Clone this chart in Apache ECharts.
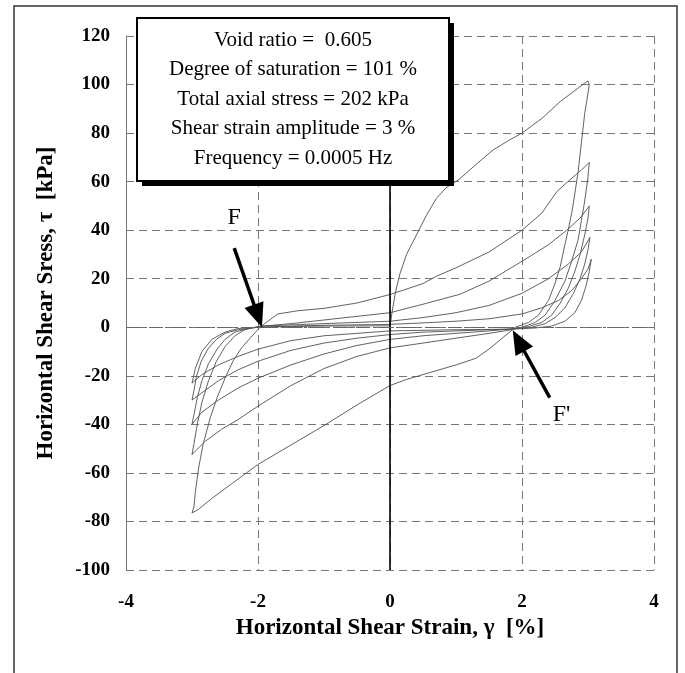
<!DOCTYPE html>
<html><head><meta charset="utf-8">
<script src="https://cdn.jsdelivr.net/npm/echarts@6/dist/echarts.min.js"></script>
<style>html,body{margin:0;padding:0;background:#fff}#c{width:685px;height:673px}</style>
</head><body><div id="c"></div>
<script>
// ---- data (strain %, stress kPa) ----
const xTickLabels = [-4, -2, 0, 2, 4];
const yTickLabels = [-100, -80, -60, -40, -20, 0, 20, 40, 60, 80, 100, 120];

const L0 = [[0,0],[0.03,6],[0.08,14],[0.15,22],[0.25,30],[0.4,38],[0.55,46],[0.7,53],[0.85,57.5],[1.05,61],[1.3,67],[1.56,73],[1.8,77],[2.0,80],[2.3,86],[2.58,93],[2.8,97.5],[2.92,100],[3.0,101.5]];
const U1 = [[3.0,101.5],[3.02,100],[2.98,93],[2.95,88],[2.9,76],[2.85,64],[2.8,55],[2.76,48],[2.7,40],[2.65,34],[2.58,25],[2.5,18],[2.4,11],[2.25,5],[2.1,2],[1.9,0],[1.7,-4.5],[1.5,-9],[1.3,-12.8],[1.0,-15.5],[0.56,-19],[0.25,-21.5],[0,-24],[-0.5,-32],[-1,-40.5],[-1.5,-48.5],[-2,-56.5],[-2.4,-64.5],[-2.7,-70.5],[-2.9,-75],[-3.0,-76.5]];
const R1 = [[-3.0,-76.5],[-2.97,-74],[-2.95,-68],[-2.9,-58],[-2.83,-48],[-2.72,-37],[-2.62,-29],[-2.5,-21],[-2.38,-14],[-2.25,-8.5],[-2.12,-4.5],[-1.97,0],[-1.85,2.5],[-1.7,5.5],[-1.4,6.8],[-1,7.8],[-0.5,10],[0,13.5],[0.5,18],[0.7,21],[1,24.5],[1.5,31],[2,40],[2.3,47],[2.53,56],[2.8,62.5],[2.95,66],[3.02,68]];
const U2 = [[3.02,68],[3.0,62],[2.95,52],[2.9,44],[2.85,36],[2.75,27],[2.65,19],[2.5,11],[2.35,5],[2.2,2],[2.0,0],[1.8,-1.2],[1.5,-2.5],[1,-4.5],[0.5,-6.5],[0,-8.5],[-0.5,-12],[-1,-17],[-1.5,-24],[-2,-32.5],[-2.3,-38],[-2.55,-42],[-2.8,-47],[-2.95,-51],[-3.0,-52.5]];
const R2 = [[-3.0,-52.5],[-2.97,-48],[-2.92,-40],[-2.85,-31],[-2.75,-22],[-2.63,-14],[-2.5,-8],[-2.35,-3.5],[-2.2,-1],[-2.0,0.3],[-1.5,1.5],[-1,3],[-0.5,4.5],[0,6],[0.5,9.5],[1.06,13.6],[1.5,19],[2.08,28.5],[2.4,34],[2.68,40],[2.88,45],[3.02,50]];
const U3 = [[3.02,50],[3.0,45],[2.95,38],[2.88,30],[2.8,23],[2.7,16],[2.58,10],[2.45,5],[2.3,2],[2.1,0.3],[1.9,-0.5],[1.5,-1.5],[1,-2.5],[0.5,-3.5],[0,-5],[-0.5,-7.5],[-1,-11],[-1.5,-15.5],[-2,-21],[-2.3,-25],[-2.6,-30],[-2.85,-35],[-2.97,-39],[-3.0,-40]];
const R3 = [[-3.0,-40],[-2.97,-36],[-2.92,-29],[-2.85,-22],[-2.75,-15],[-2.62,-9],[-2.5,-5],[-2.35,-2],[-2.15,-0.5],[-1.9,0.5],[-1.5,1],[-1,1.5],[-0.5,2],[0,2.5],[0.5,4],[1,6],[1.5,9],[2,14],[2.4,20],[2.7,26],[2.9,31],[3.03,37]];
const U4 = [[3.03,37],[3.0,32],[2.95,26],[2.88,20],[2.78,14],[2.65,8],[2.5,4],[2.35,1.5],[2.15,0],[1.8,-0.8],[1.5,-1],[1,-1.5],[0.5,-2],[0,-3],[-0.5,-4.5],[-1,-6.5],[-1.5,-9.5],[-2,-14],[-2.3,-17.5],[-2.6,-22],[-2.85,-27],[-3.0,-30]];
const R4 = [[-3.0,-30],[-2.97,-26],[-2.93,-20],[-2.86,-14],[-2.76,-9],[-2.63,-5],[-2.5,-2.5],[-2.3,-1],[-2.0,0],[-1.5,0.5],[-1,0.8],[0,1.2],[0.5,1.8],[1,2.5],[1.5,3.5],[2,5.5],[2.3,8],[2.55,11],[2.75,15],[2.9,20],[3.0,24],[3.05,28]];
const U5 = [[3.05,28],[3.02,23],[2.97,17],[2.9,11],[2.8,6],[2.65,2.5],[2.45,0.5],[2.2,-0.3],[1.8,-0.8],[1,-1],[0,-1.5],[-0.5,-2.5],[-1,-3.5],[-1.5,-5.5],[-2,-9],[-2.3,-12],[-2.6,-15.5],[-2.85,-19.5],[-3.0,-23]];
const R5 = [[-3.0,-23],[-2.95,-17],[-2.85,-10],[-2.7,-5],[-2.5,-2],[-2.3,-0.5],[-2.0,0],[-1.5,0.3],[-1,0.5],[0,0.6]];

const branches = [L0, U1, R1, U2, R2, U3, R3, U4, R4, U5, R5];

const infoLines = ['Void ratio =  0.605', 'Degree of saturation = 101 %', 'Total axial stress = 202 kPa', 'Shear strain amplitude = 3 %', 'Frequency = 0.0005 Hz'];
const arrowF  = { text: 'F',  tip: [-1.94, 0],   tail: [-2.36, 32.6], label: [-2.36, 45] };
const arrowF2 = { text: "F'", tip: [1.86, -1.2], tail: [2.42, -29],   label: [2.6, -36] };

const FONT = '"Liberation Serif", "Times New Roman", serif';
const chart = echarts.init(document.getElementById('c'), null, { renderer: 'canvas' });

const series = branches.map(b => ({
  type: 'line', data: b, symbol: 'none', smooth: false,
  lineStyle: { color: '#505050', width: 0.9 }, silent: true, z: 3
}));
series.push({
  type: 'line', data: [], silent: true,
  markLine: {
    silent: true, symbol: 'none', label: { show: false }, animation: false,
    data: [
      { xAxis: 0, lineStyle: { color: '#000', width: 1.6, type: 'solid' } },
      { yAxis: 0, lineStyle: { color: '#666', width: 1, type: [14, 3, 3, 3] } }
    ]
  }
});

chart.setOption({
  animation: false,
  backgroundColor: '#fff',
  grid: { left: 126, right: 31, top: 36, bottom: 103 },
  xAxis: {
    type: 'value', min: -4, max: 4, interval: 2,
    name: 'Horizontal Shear Strain, γ  [%]', nameLocation: 'middle', nameGap: 46,
    nameTextStyle: { fontFamily: FONT, fontSize: 23, fontWeight: 'bold', color: '#000' },
    axisLine: { show: false, onZero: false }, axisTick: { show: false },
    axisLabel: { fontFamily: FONT, fontSize: 19, fontWeight: 'bold', color: '#000', margin: 23,
      formatter: v => xTickLabels.includes(v) ? String(v) : '' },
    splitLine: { show: true, lineStyle: { color: '#777', width: 1, type: [8, 5] } }
  },
  yAxis: {
    type: 'value', min: -100, max: 120, interval: 20,
    name: 'Horizontal Shear Sress, τ  [kPa]', nameLocation: 'middle', nameGap: 68,
    nameTextStyle: { fontFamily: FONT, fontSize: 23, fontWeight: 'bold', color: '#000' },
    axisLine: { show: true, onZero: false, lineStyle: { color: '#777', width: 1 } }, axisTick: { show: false },
    axisLabel: { fontFamily: FONT, fontSize: 19, fontWeight: 'bold', color: '#000', margin: 16,
      formatter: v => yTickLabels.includes(v) ? String(v) : '' },
    splitLine: { show: true, lineStyle: { color: '#777', width: 1, type: [8, 5] } }
  },
  series: series
});

function arrowGraphics(a) {
  const tip = chart.convertToPixel({ gridIndex: 0 }, a.tip);
  const tail = chart.convertToPixel({ gridIndex: 0 }, a.tail);
  const lab = chart.convertToPixel({ gridIndex: 0 }, a.label);
  const dx = tip[0] - tail[0], dy = tip[1] - tail[1];
  const len = Math.hypot(dx, dy), ux = dx / len, uy = dy / len;
  const headL = 24, headW = 10;
  const bx = tip[0] - ux * headL, by = tip[1] - uy * headL;
  return [
    { type: 'line', z: 50, shape: { x1: tail[0], y1: tail[1], x2: bx + ux * 2, y2: by + uy * 2 },
      style: { stroke: '#000', lineWidth: 3.5 } },
    { type: 'polygon', z: 50, shape: { points: [tip, [bx - uy * headW, by + ux * headW], [bx + uy * headW, by - ux * headW]] },
      style: { fill: '#000' } },
    { type: 'text', z: 50, x: lab[0], y: lab[1],
      style: { text: a.text, font: '24px ' + FONT, fill: '#000', textAlign: 'center', textVerticalAlign: 'middle' } }
  ];
}

const boxW = 312, boxH = 163;
const textEls = infoLines.map((t, i) => ({
  type: 'text', x: boxW / 2, y: 22 + i * 29.5, z: 101,
  style: { text: t, font: '21px ' + FONT, fill: '#000', textAlign: 'center', textVerticalAlign: 'middle' }
}));

chart.setOption({
  graphic: [
    { type: 'rect', z: 1, shape: { x: 14, y: 6, width: 663, height: 720 }, style: { fill: 'none', stroke: '#333', lineWidth: 1.5 } },
    { type: 'group', left: 136, top: 17, z: 100, children: [
      { type: 'rect', z: 100, shape: { x: 5, y: 5, width: boxW, height: boxH }, style: { fill: '#000' } },
      { type: 'rect', z: 100, shape: { x: 0, y: 0, width: boxW, height: boxH }, style: { fill: '#fff', stroke: '#000', lineWidth: 2 } }
    ].concat(textEls) }
  ].concat(arrowGraphics(arrowF), arrowGraphics(arrowF2))
});
</script>
</body></html>
